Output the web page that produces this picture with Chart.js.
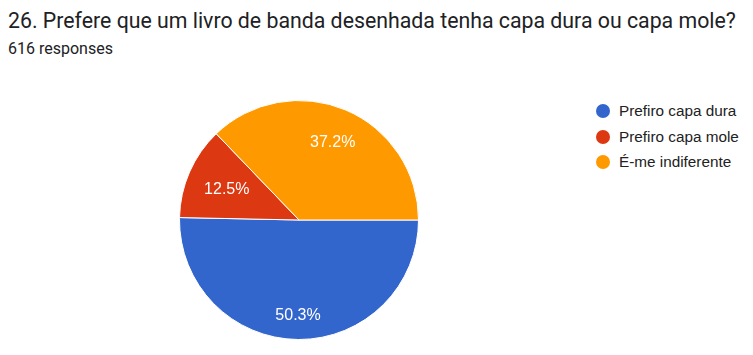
<!DOCTYPE html>
<html>
<head>
<meta charset="utf-8">
<script src="https://cdn.jsdelivr.net/npm/chart.js@4"></script>
<style>
  html, body { margin: 0; padding: 0; background: #ffffff; width: 753px; height: 355px; overflow: hidden; }
  #title { position: absolute; left: 8px; top: 10.4px; font-family: Roboto, sans-serif; font-size: 21.3px; line-height: 21.3px; color: #202124; white-space: nowrap; }
  #sub { position: absolute; left: 8px; top: 40.5px; font-family: Roboto, sans-serif; font-size: 16px; line-height: 16px; color: #202124; white-space: nowrap; }
  #wrap { position: absolute; left: 177px; top: 98px; width: 244px; height: 244px; }
  #legend { position: absolute; left: 596px; top: 98px; font-family: Arial, "Liberation Sans", sans-serif; font-size: 15.3px; color: #222222; }
  .item { height: 25.8px; display: flex; align-items: center; white-space: nowrap; }
  .dot { width: 14px; height: 14px; border-radius: 50%; margin-right: 9px; flex: none; }
</style>
</head>
<body>
<div id="title"></div>
<div id="sub"></div>
<div id="wrap"><canvas id="c"></canvas></div>
<div id="legend"></div>
<script>
const titleText = "26. Prefere que um livro de banda desenhada tenha capa dura ou capa mole?";
const subtitleText = "616 responses";
const categories = ["Prefiro capa dura", "Prefiro capa mole", "É-me indiferente"];
const responses = [310, 77, 229];
const colors = ["#3366cc", "#dc3912", "#ff9900"];

document.getElementById("title").textContent = titleText;
document.getElementById("sub").textContent = subtitleText;

const legendEl = document.getElementById("legend");
categories.forEach((name, i) => {
  const row = document.createElement("div");
  row.className = "item";
  const dot = document.createElement("span");
  dot.className = "dot";
  dot.style.background = colors[i];
  const txt = document.createElement("span");
  txt.textContent = name;
  row.appendChild(dot);
  row.appendChild(txt);
  legendEl.appendChild(row);
});

const labelPlugin = {
  id: "sliceLabels",
  afterDatasetsDraw(chart, args, opts) {
    const ctx = chart.ctx;
    const meta = chart.getDatasetMeta(0);
    const data = chart.data.datasets[0].data;
    const total = data.reduce((a, b) => a + b, 0);
    ctx.save();
    ctx.fillStyle = "#ffffff";
    ctx.font = "16px Arial, 'Liberation Sans', sans-serif";
    ctx.textAlign = "center";
    ctx.textBaseline = "alphabetic";
    meta.data.forEach((arc, i) => {
      const p = arc.getProps(["x", "y", "startAngle", "endAngle", "outerRadius"], true);
      const mid = (p.startAngle + p.endAngle) / 2;
      const f = opts.factors[i];
      const x = p.x + Math.cos(mid) * p.outerRadius * f;
      const y = p.y + Math.sin(mid) * p.outerRadius * f;
      ctx.fillText((data[i] / total * 100).toFixed(1) + "%", x, y + 5.7);
    });
    ctx.restore();
  }
};

new Chart(document.getElementById("c"), {
  type: "pie",
  data: {
    labels: categories,
    datasets: [{
      data: responses,
      backgroundColor: colors,
      borderColor: "#ffffff",
      borderWidth: 1
    }]
  },
  options: {
    responsive: true,
    maintainAspectRatio: false,
    animation: false,
    rotation: 90,
    layout: { padding: 2 },
    plugins: {
      legend: { display: false },
      tooltip: { enabled: false },
      sliceLabels: { factors: [0.79, 0.66, 0.72] }
    }
  },
  plugins: [labelPlugin]
});
</script>
</body>
</html>
